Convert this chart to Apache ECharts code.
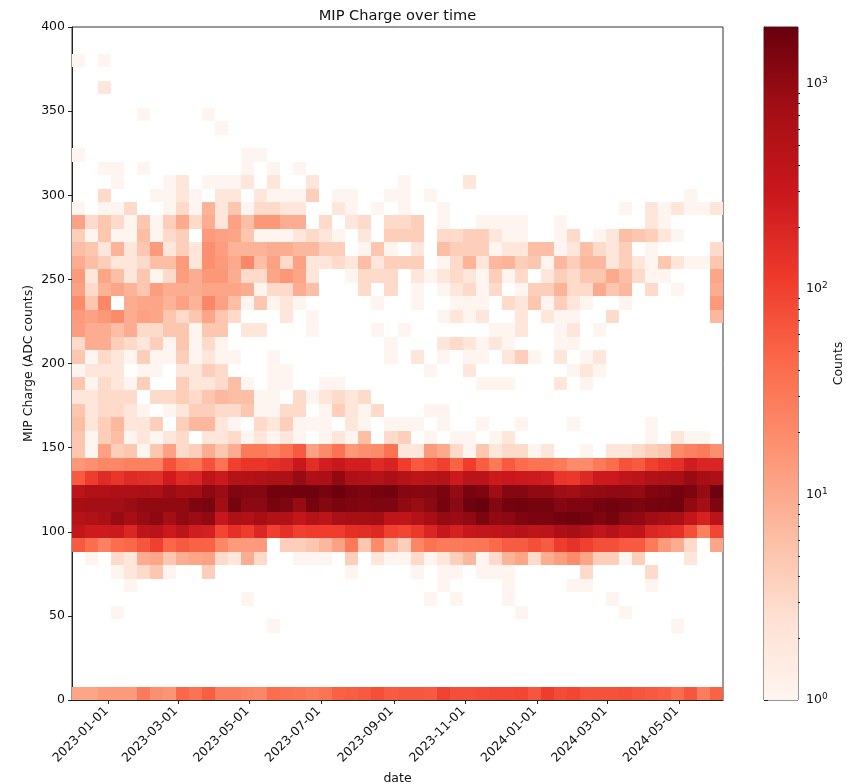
<!DOCTYPE html>
<html><head><meta charset="utf-8">
<style>html,body{margin:0;padding:0;background:#fff}#c{width:847px;height:784px}</style>
<script src="https://cdn.jsdelivr.net/npm/echarts@6/dist/echarts.min.js"></script>
</head><body><div id="c"></div>
<script>
const titleText = 'MIP Charge over time';
const xName = 'date', yName = 'MIP Charge (ADC counts)', cbName = 'Counts';
const xStart = '2022-11-30T20:00:00Z', xEnd = '2024-06-07T12:00:00Z';
const nCols = 50, binHeight = 8;
const xTickLabels = ['2023-01-01','2023-03-01','2023-05-01','2023-07-01','2023-09-01','2023-11-01','2024-01-01','2024-03-01','2024-05-01'];
const yMax = 400, yStep = 50;
const cbMax = 1880;
const cbMajor = [1,10,100,1000];
const cbMinor = [2,3,4,5,6,7,8,9,20,30,40,50,60,70,80,90,200,300,400,500,600,700,800,900];
const reds = ['#fff5f0','#fee0d2','#fcbba1','#fc9272','#fb6a4a','#ef3b2c','#cb181d','#a50f15','#67000d'];

// counts per histogram row: {column: count}; row n covers ADC n*8 .. n*8+8
const row0 = {0:11,1:11,2:14,3:14,4:14,5:30,6:18,7:16,8:45,9:35,10:55,11:28,12:28,13:24,14:22,15:40,16:36,17:34,18:30,19:34,20:52,21:55,22:60,23:75,24:58,25:62,26:62,27:60,28:95,29:75,30:75,31:80,32:85,33:85,34:90,35:65,36:110,37:80,38:90,39:70,40:70,41:70,42:75,43:65,44:60,45:55,46:40,47:65,48:28,49:50};
const row5 = {15:1,46:1};
const row6 = {3:1,34:1,42:1};
const row7 = {13:1,27:1,29:1,33:1,41:1};
const row8 = {4:1,28:1,33:1,38:1,39:1,44:1};
const row9 = {3:1,4:2,5:3,6:5,7:1,10:4,21:1,26:1,28:1,29:1,31:1,32:1,33:1,39:3,44:3};
const row10 = {1:1,3:3,4:2,5:9,6:11,7:5,8:9,9:11,10:12,11:3,12:2,13:9,14:3,17:1,18:1,19:1,21:4,23:2,24:1,25:1,26:3,27:1,28:2,29:4,30:7,31:1,32:3,33:8,34:11,35:3,36:9,37:13,38:20,39:11,40:4,41:4,42:1,43:4,47:2};
const row11 = {0:60,1:40,2:25,3:40,4:45,5:65,6:100,7:45,8:60,9:50,10:50,11:22,12:14,13:14,14:14,16:4,17:4,18:5,19:7,20:12,21:30,22:5,23:20,24:8,25:4,26:22,27:35,28:30,29:30,30:32,31:33,32:42,33:58,34:58,35:75,36:58,37:110,38:140,39:100,40:75,41:75,42:60,43:60,44:30,45:14,46:9,47:3,49:11};
const row12 = {0:350,1:270,2:270,3:280,4:190,5:400,6:450,7:280,8:420,9:250,10:230,11:90,12:150,13:110,14:190,15:100,16:150,17:100,18:110,19:110,20:110,21:150,22:160,23:180,24:100,25:90,26:120,27:200,28:330,29:220,30:320,31:370,32:380,33:420,34:480,35:400,36:420,37:600,38:700,39:550,40:380,41:480,42:350,43:400,44:190,45:170,46:150,47:75,48:25,49:90};
const row13 = {0:500,1:550,2:650,3:900,4:700,5:900,6:1050,7:750,8:1000,9:850,10:1000,11:330,12:600,13:550,14:700,15:550,16:550,17:350,18:480,19:420,20:650,21:700,22:700,23:750,24:400,25:400,26:520,27:700,28:950,29:850,30:1000,31:1350,32:1000,33:1100,34:1300,35:1400,36:1400,37:1550,38:1650,39:1550,40:1300,41:1500,42:1100,43:1000,44:800,45:700,46:650,47:350,48:220,49:450};
const row14 = {0:700,1:750,2:750,3:750,4:850,5:1000,6:1000,7:1000,8:1000,9:1300,10:1400,11:780,12:1500,13:1050,14:1100,15:1450,16:1300,17:900,18:1500,19:1200,20:1400,21:1300,22:1250,23:1300,24:1300,25:1000,26:850,27:1100,28:1500,29:1100,30:1700,31:1880,32:1200,33:1550,34:1600,35:1500,36:1500,37:1200,38:1300,39:1300,40:1500,41:1600,42:1500,43:1350,44:1500,45:1550,46:1600,47:1000,48:750,49:1300};
const row15 = {0:420,1:550,2:550,3:600,4:600,5:650,6:600,7:850,8:700,9:750,10:1050,11:850,12:1250,13:1200,14:1200,15:1600,16:1600,17:1650,18:1700,19:1450,20:1800,21:1450,22:1350,23:1500,24:1600,25:1200,26:1150,27:1200,28:1400,29:950,30:1450,31:1300,32:800,33:1200,34:1200,35:1000,36:1000,37:800,38:750,39:900,40:950,41:1000,42:1000,43:950,44:1250,45:1350,46:1550,47:1350,48:900,49:1700};
const row16 = {0:60,1:110,2:170,3:130,4:170,5:160,6:150,7:260,8:170,9:200,10:400,11:280,12:500,13:520,14:560,15:620,16:620,17:900,18:600,19:650,20:1000,21:600,22:550,23:500,24:650,25:500,26:400,27:450,28:500,29:280,30:450,31:450,32:280,33:300,34:280,35:270,36:250,37:130,38:120,39:180,40:280,41:280,42:380,43:420,44:550,45:600,46:650,47:900,48:700,49:600};
const row17 = {0:15,1:18,2:22,3:22,4:25,5:25,6:25,7:70,8:40,9:35,10:70,11:35,12:100,13:130,14:130,15:150,16:170,17:300,18:160,19:240,20:300,21:240,22:240,23:170,24:210,25:110,26:60,27:75,28:100,29:50,30:110,31:55,32:30,33:60,34:40,35:35,36:35,37:30,38:20,39:20,40:30,41:40,42:70,43:60,44:100,45:130,46:150,47:250,48:200,49:200};
const row18 = {0:5,1:1,2:12,3:4,4:5,5:1,6:5,7:12,8:3,9:4,10:9,11:5,12:9,13:30,14:30,15:25,16:35,17:60,18:12,19:20,20:35,21:15,22:18,23:20,24:35,25:2,26:2,27:14,28:10,29:3,30:1,31:5,32:2,33:3,34:3,35:1,36:2,39:1,41:2,42:2,43:3,44:4,45:5,46:20,47:25,48:30,49:18};
const row19 = {0:5,1:1,2:4,3:6,4:1,5:2,6:1,7:2,8:3,10:2,11:2,12:3,13:1,14:2,15:1,16:2,17:1,19:1,20:2,21:1,22:6,24:3,25:4,27:1,29:1,30:1,32:1,33:2,44:1,46:2,47:1,48:1};
const row20 = {0:6,1:2,2:4,3:7,4:2,5:2,6:4,8:4,9:7,10:7,11:2,12:1,14:3,15:2,16:4,17:1,18:1,19:1,21:2,22:1,24:1,25:1,26:1,28:1,31:1,34:1,38:1,44:1};
const row21 = {0:5,1:2,2:3,3:3,4:2,5:1,7:1,8:2,9:4,10:4,11:3,12:3,13:5,14:1,15:1,16:3,17:3,19:1,20:4,21:2,22:1,23:3,27:1,28:1};
const row22 = {0:2,1:2,2:3,3:3,4:3,6:3,7:3,8:4,9:3,10:5,11:7,12:6,13:6,14:1,15:1,17:3,18:1,19:2,20:3,21:2,22:3};
const row23 = {0:5,1:1,2:3,3:2,4:1,5:4,8:4,9:2,10:2,11:3,12:6,13:1,15:1,16:1,19:1,20:1,31:1,32:1,33:1,37:2,39:1};
const row24 = {0:1,1:2,2:2,3:2,5:1,6:1,8:2,9:2,10:4,11:3,15:1,16:1,27:1,30:2,38:1,39:2,40:1};
const row25 = {0:5,1:1,2:3,3:2,4:1,5:4,6:1,7:1,8:4,9:1,10:2,11:1,12:1,15:1,24:1,26:2,28:1,30:1,31:1,33:2,34:4,35:1,37:2,39:1,40:2};
const row26 = {0:3,1:9,2:9,3:4,4:3,5:2,6:4,7:1,8:5,9:1,10:3,11:1,24:1,28:2,29:3,30:2,31:1,32:2,33:1,37:1,38:1};
const row27 = {0:13,1:9,2:9,3:6,4:9,5:3,6:3,7:5,8:5,9:1,10:5,11:5,13:2,14:2,18:1,23:1,25:1,32:1,33:1,34:2,37:1,38:2,40:1};
const row28 = {0:14,1:12,2:15,3:20,4:9,5:12,6:11,7:5,8:3,9:5,10:11,11:5,12:3,16:2,18:1,28:1,29:2,30:1,31:2,34:2,36:2,37:1,38:1,41:3,49:7};
const row29 = {0:20,1:5,2:22,4:9,5:11,6:11,7:8,8:12,9:8,10:22,11:12,12:6,13:1,14:5,15:1,16:2,17:1,23:1,26:1,29:1,30:1,31:1,33:3,34:2,35:5,36:1,37:4,38:2,39:1,42:1,49:14};
const row30 = {0:12,1:3,2:8,3:11,4:8,5:5,6:13,7:9,8:9,9:9,10:11,11:11,12:11,13:9,14:1,15:3,16:3,17:9,18:6,22:3,24:3,26:1,28:1,29:2,30:3,31:1,32:3,34:1,35:4,36:4,37:8,38:3,39:3,40:10,41:5,42:7,44:3,46:1,49:9};
const row31 = {0:14,1:2,2:11,3:6,4:2,5:5,6:1,7:3,8:13,9:9,10:15,11:15,12:9,13:3,14:3,15:11,16:15,17:11,18:2,21:1,22:3,23:3,24:3,26:2,27:1,28:2,29:3,30:2,31:1,32:4,33:1,34:3,36:2,37:4,38:3,39:5,40:5,41:10,42:6,43:3,44:1,45:1,49:11};
const row32 = {0:9,1:6,2:4,3:2,4:2,5:3,6:6,7:6,8:14,9:2,10:18,11:14,12:10,13:22,14:6,15:12,16:3,17:12,18:2,19:2,20:3,21:2,22:6,23:2,24:4,25:4,26:4,28:1,29:3,30:8,31:2,32:7,33:8,34:4,35:5,36:1,37:7,38:4,39:7,40:7,41:2,42:4,43:2,44:1,45:5,46:2,47:1,48:1,49:5};
const row33 = {0:6,1:5,2:2,3:8,4:2,5:5,6:14,7:2,8:4,9:2,10:18,11:13,12:8,13:8,14:8,15:9,16:9,17:7,18:7,19:4,20:4,22:1,23:5,24:1,26:2,28:6,29:4,30:4,31:4,32:1,33:2,34:2,35:6,36:6,37:1,38:2,39:6,40:3,41:2,42:4,44:1,49:3};
const row34 = {0:4,1:1,2:5,3:1,4:1,5:6,6:1,7:3,8:4,10:14,11:12,12:11,13:5,14:1,15:1,16:1,17:2,18:3,19:2,20:1,22:2,24:4,25:4,26:4,28:3,29:3,30:4,31:4,32:2,33:1,34:1,37:1,38:3,40:1,41:2,42:6,43:5,44:4,45:2,46:1};
const row35 = {0:12,1:3,2:5,3:3,4:1,5:5,6:1,7:4,8:10,9:3,10:9,11:2,12:12,13:6,14:15,15:15,16:9,17:9,19:3,21:2,22:3,24:3,25:3,26:4,28:1,31:1,32:1,33:1,34:1,37:1,44:2,45:1};
const row36 = {0:1,2:1,3:1,4:3,7:1,8:3,9:1,10:8,11:2,12:5,13:1,14:3,15:3,16:2,17:2,20:2,21:1,23:1,25:1,28:1,42:1,44:2,45:1,46:2,47:1,48:1,49:2};
const row37 = {2:3,6:1,7:1,8:2,9:1,11:2,12:2,14:2,15:1,16:1,17:1,18:4,20:1,21:1,24:1,25:1,27:1,47:1};
const row38 = {3:1,7:1,8:2,10:1,11:1,12:1,13:2,15:2,18:2,25:1,30:2};
const row39 = {2:1,3:1,5:1,13:1,15:1,17:1};
const row40 = {0:1,13:1,14:1};
const row42 = {11:1};
const row43 = {5:1,10:1};
const row45 = {2:2};
const row47 = {0:1,2:1};

const rows = {0:row0,5:row5,6:row6,7:row7,8:row8,9:row9,10:row10,11:row11,12:row12,13:row13,14:row14,15:row15,16:row16,17:row17,18:row18,19:row19,20:row20,21:row21,22:row22,23:row23,24:row24,25:row25,26:row26,27:row27,28:row28,29:row29,30:row30,31:row31,32:row32,33:row33,34:row34,35:row35,36:row36,37:row37,38:row38,39:row39,40:row40,42:row42,43:row43,45:row45,47:row47};

const t0 = Date.parse(xStart), t1 = Date.parse(xEnd), binW = (t1 - t0) / nCols;
const cells = [];
Object.keys(rows).forEach(r => {
  const row = rows[r];
  Object.keys(row).forEach(c => {
    cells.push([t0 + binW * (+c), t0 + binW * (+c + 1), +r * binHeight, (+r + 1) * binHeight, Math.log10(row[c])]);
  });
});
const xTicks = xTickLabels.map(d => Date.parse(d + 'T00:00:00Z'));
const font = 'DejaVu Sans', ink = '#111', fs = 12.5;
const chart = echarts.init(document.getElementById('c'), null, {renderer: 'canvas'});
chart.setOption({
  animation: false,
  backgroundColor: '#fff',
  title: {text: titleText, left: 392.5, top: 4, textAlign: 'center',
    textStyle: {fontFamily: font, fontSize: 14.6, fontWeight: 'normal', color: ink}},
  grid: [
    {left: 72, right: 124, top: 27, bottom: 84, outerBoundsMode: 'none', show: true, borderColor: '#333', borderWidth: 1, backgroundColor: '#fff'},
    {left: 764, width: 34, top: 27, bottom: 84, outerBoundsMode: 'none', show: true, borderColor: '#333', borderWidth: 1, backgroundColor: 'transparent'}
  ],
  visualMap: {show: false, type: 'continuous', seriesIndex: 0, dimension: 4, min: 0, max: Math.log10(cbMax), inRange: {color: reds}},
  xAxis: [
    {gridIndex: 0, type: 'value', min: t0, max: t1, scale: true, splitLine: {show: false},
     name: xName, nameLocation: 'middle', nameGap: 70,
     nameTextStyle: {fontFamily: font, fontSize: fs, color: ink},
     axisLine: {show: true, lineStyle: {color: '#222', width: 1}},
     axisTick: {show: true, length: 4, lineStyle: {color: '#222'}, customValues: xTicks},
     axisLabel: {show: true, rotate: 45, margin: 7, padding: [0, 3, 0, 0], fontFamily: font, fontSize: fs, color: ink, customValues: xTicks, hideOverlap: false,
       formatter: v => new Date(v).toISOString().slice(0, 10)}},
    {gridIndex: 1, type: 'value', min: 0, max: 1, show: false}
  ],
  yAxis: [
    {gridIndex: 0, type: 'value', min: 0, max: yMax, interval: yStep, splitLine: {show: false},
     name: yName, nameLocation: 'middle', nameGap: 37, nameRotate: 90, nameMoveOverlap: false,
     nameTextStyle: {fontFamily: font, fontSize: fs, color: ink},
     axisLine: {show: true, lineStyle: {color: '#222', width: 1}},
     axisTick: {show: true, length: 4, lineStyle: {color: '#222'}},
     axisLabel: {margin: 7, fontFamily: font, fontSize: fs, color: ink}},
    {gridIndex: 1, type: 'log', logBase: 10, min: 1, max: cbMax, position: 'right', splitLine: {show: false},
     name: cbName, nameLocation: 'middle', nameGap: 34, nameRotate: 90,
     nameTextStyle: {fontFamily: font, fontSize: fs, color: ink},
     axisLine: {show: true, lineStyle: {color: '#333', width: 1}},
     axisTick: {show: true, length: 4, lineStyle: {color: '#222'}, customValues: cbMajor},
     axisLabel: {margin: 8, fontFamily: font, fontSize: fs, color: ink, customValues: cbMajor,
       formatter: v => '10{s|' + Math.round(Math.log10(v)) + '}',
       rich: {s: {fontFamily: font, fontSize: 9, color: ink, verticalAlign: 'top', padding: [0, 0, 6, 0]}}}},
    {gridIndex: 1, type: 'log', logBase: 10, min: 1, max: cbMax, position: 'right', splitLine: {show: false},
     axisLine: {show: false}, axisLabel: {show: false},
     axisTick: {show: true, length: 2, lineStyle: {color: '#222'}, customValues: cbMinor}}
  ],
  series: [
    {type: 'custom', xAxisIndex: 0, yAxisIndex: 0, coordinateSystem: 'cartesian2d', clip: true, data: cells,
     encode: {x: [0, 1], y: [2, 3]}, silent: true,
     renderItem: (p, api) => {
       const a = api.coord([api.value(0), api.value(2)]);
       const b = api.coord([api.value(1), api.value(3)]);
       const x = Math.round(a[0]), X = Math.round(b[0]), y = Math.round(b[1]), Y = Math.round(a[1]);
       return {type: 'rect', shape: {x, y, width: X - x, height: Y - y}, style: {fill: api.visual('color')}};
     }},
    {type: 'custom', xAxisIndex: 1, yAxisIndex: 1, coordinateSystem: 'cartesian2d', clip: false, silent: true,
     data: [[0, 1, 1, cbMax]], encode: {x: [0, 1], y: [2, 3]},
     renderItem: (p, api) => {
       const a = api.coord([api.value(0), api.value(2)]);
       const b = api.coord([api.value(1), api.value(3)]);
       return {type: 'rect', shape: {x: a[0], y: b[1], width: b[0] - a[0], height: a[1] - b[1]},
         style: {fill: new echarts.graphic.LinearGradient(0, 1, 0, 0, reds.map((c, i) => ({offset: i / (reds.length - 1), color: c})))}};
     }}
  ]
});
</script></body></html>
